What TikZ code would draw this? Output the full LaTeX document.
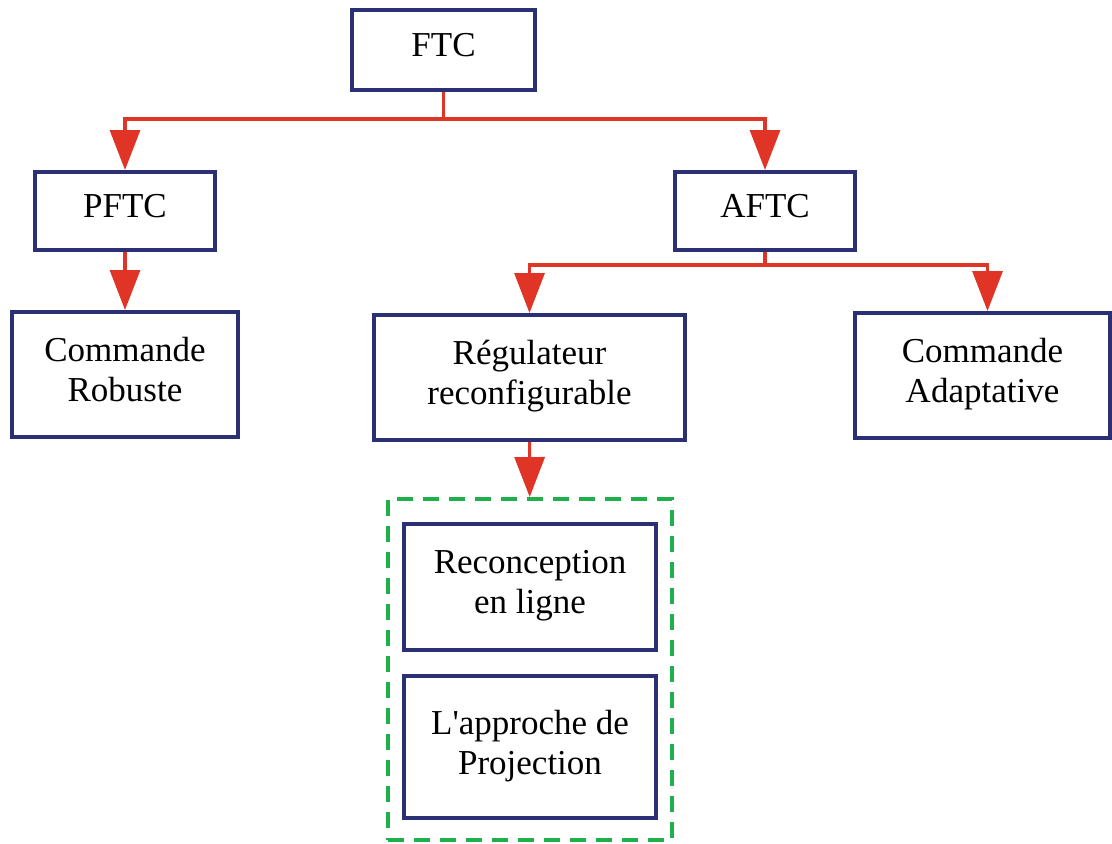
\documentclass[tikz,border=0pt]{standalone}
\usepackage{fontspec}
\setmainfont{Liberation Serif}
\usetikzlibrary{arrows.meta,positioning}
\definecolor{bleunuit}{RGB}{42,48,115}
\definecolor{rougevif}{RGB}{224,52,39}
\definecolor{vertvif}{RGB}{30,176,75}
\tikzset{
  boite/.style={
    draw=bleunuit,
    line width=2pt,
    fill=white,
    align=center,
    inner sep=2pt,
    text depth=5pt,
    font=\fontsize{17.5}{20}\selectfont
  },
  groupe/.style={
    draw=vertvif,
    line width=2pt,
    dash pattern=on 8pt off 5pt,
    inner sep=0pt
  },
  fleche/.style={
    -{Triangle[length=20pt,width=15pt]},
    line width=1.6pt,
    rougevif
  }
}
\begin{document}
\begin{tikzpicture}[x=0.5pt,y=-0.5pt]
\useasboundingbox (0,0) rectangle (1112,843);
\node[boite,minimum width=91.5pt,minimum height=40pt] (ftc) at (443.5,50) {FTC};
\node[boite,minimum width=90pt,minimum height=39pt] (pftc) at (125,211) {PFTC};
\node[boite,minimum width=90pt,minimum height=39pt] (aftc) at (765,211) {AFTC};
\node[boite,minimum width=113pt,minimum height=62.5pt] (robuste) at (125,374.5) {Commande\\Robuste};
\node[boite,minimum width=155.5pt,minimum height=62.5pt] (regul) at (529.5,377.5) {Régulateur\\reconfigurable};
\node[boite,minimum width=127.5pt,minimum height=62.5pt] (adapt) at (982.5,375.5) {Commande\\Adaptative};
\node[groupe,minimum width=142pt,minimum height=170.5pt] (grp) at (530,669.5) {};
\node[boite,minimum width=126pt,minimum height=63pt] (recon) at (530,587) {Reconception\\en ligne};
\node[boite,minimum width=126pt,minimum height=71pt] (proj) at (530,747) {L\textquotesingle approche de\\Projection};
% liaisons
\draw[fleche] (ftc.south) -- ++(0,27) -| (pftc.north);
\draw[fleche] (ftc.south) -- ++(0,27) -| (aftc.north);
\draw[fleche] (pftc) -- (robuste);
\draw[fleche] (aftc.south) -- ++(0,13) -| (regul.north);
\draw[fleche] (aftc.south) -- ++(0,13) -| ([xshift=2.5pt]adapt.north);
\draw[fleche] (regul) -- (grp);
\end{tikzpicture}
\end{document}
